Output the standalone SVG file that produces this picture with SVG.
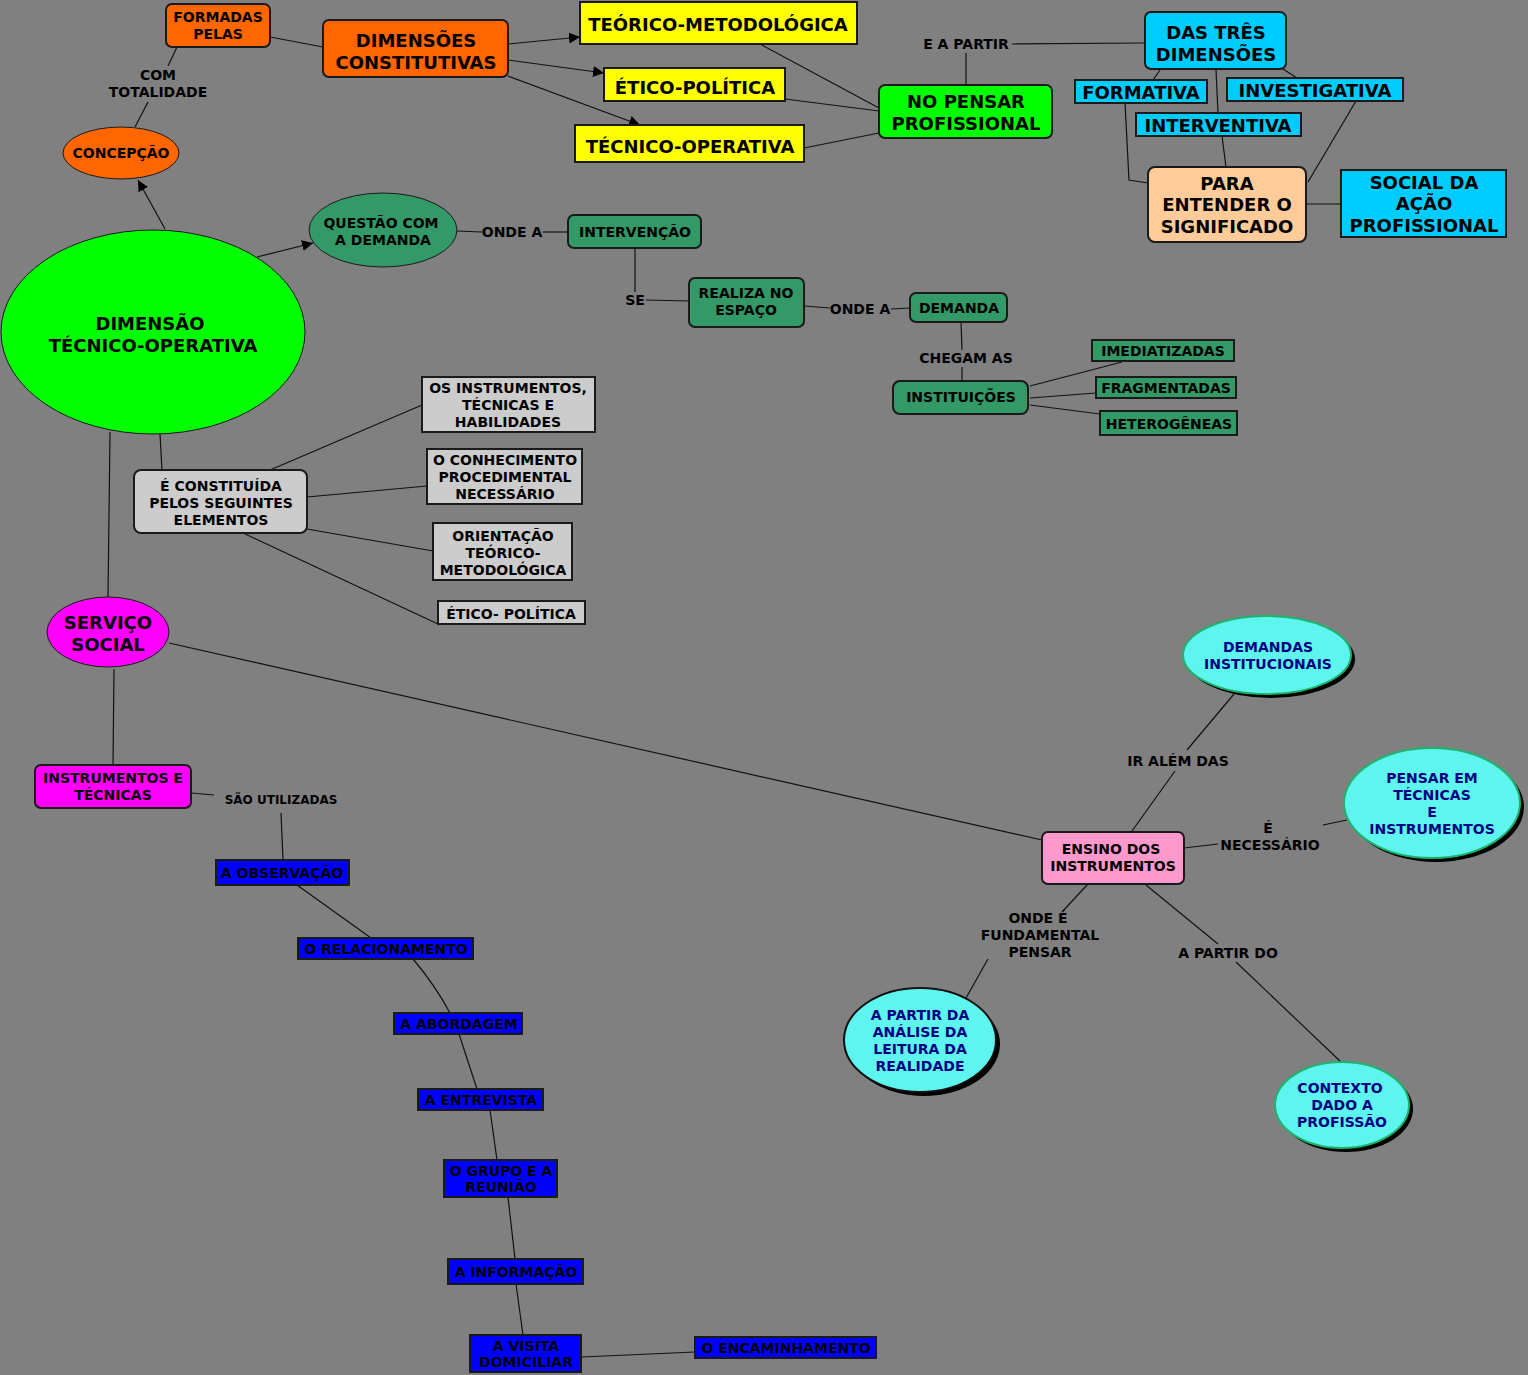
<svg xmlns="http://www.w3.org/2000/svg" width="1528" height="1375" viewBox="0 0 1528 1375">
<defs>
<marker id="arr" viewBox="0 0 10 10" refX="10" refY="5" markerWidth="11" markerHeight="11" markerUnits="userSpaceOnUse" orient="auto"><path d="M0,0 L10,5 L0,10 z" fill="#000"/></marker>
<style>
text{font-family:"DejaVu Sans","Verdana",sans-serif;font-weight:bold;text-anchor:middle;fill:#000}
.t14{font-size:14px}
.t18{font-size:18px}
.t12{font-size:12px}
.navy{fill:#000080}
.box{stroke:#1a1a1a;stroke-width:2}
.ell{stroke:#1a1a1a;stroke-width:1}
.orange{fill:#FF6600}
.yellow{fill:#FFFF00}
.green{fill:#00FF00}
.cyan{fill:#00CCFF}
.peach{fill:#FFCC99}
.sea{fill:#339966}
.gray{fill:#CCCCCC}
.mag{fill:#FF00FF}
.pink{fill:#FF99CC}
.blue{fill:#0000FF}
.aqua{fill:#5EF5EE;stroke:#1DB36B;stroke-width:2}
.shadow{fill:#000}
#connectors line,#connectors path,#connectors polyline{stroke:#111;stroke-width:1.2;fill:none}
</style>
</defs>
<rect width="1528" height="1375" fill="#808080"/>

<g id="connectors">
<line x1="270" y1="37" x2="323" y2="47"/>
<line x1="177" y1="47" x2="168" y2="66"/>
<line x1="148" y1="102" x2="135" y2="127"/>
<line x1="165" y1="229" x2="138" y2="180" marker-end="url(#arr)"/>
<line x1="257" y1="257" x2="313" y2="243" marker-end="url(#arr)"/>
<line x1="508" y1="44" x2="580" y2="37" marker-end="url(#arr)"/>
<line x1="508" y1="60" x2="604" y2="73" marker-end="url(#arr)"/>
<line x1="508" y1="76" x2="640" y2="125" marker-end="url(#arr)"/>
<line x1="760" y1="44" x2="879" y2="108"/>
<line x1="785" y1="99" x2="879" y2="111"/>
<line x1="804" y1="148" x2="879" y2="133"/>
<line x1="966" y1="85" x2="966" y2="53"/>
<line x1="1012" y1="44" x2="1145" y2="43"/>
<line x1="1160" y1="70" x2="1153" y2="80"/>
<line x1="1216" y1="70" x2="1218" y2="113"/>
<line x1="1283" y1="69" x2="1297" y2="78"/>
<polyline points="1125,103 1129,180 1148,183"/>
<line x1="1222" y1="136" x2="1226" y2="167"/>
<line x1="1356" y1="101" x2="1308" y2="182"/>
<line x1="1306" y1="204" x2="1341" y2="204"/>
<line x1="457" y1="231" x2="482" y2="232"/>
<line x1="543" y1="232" x2="568" y2="232"/>
<line x1="635" y1="248" x2="635" y2="292"/>
<line x1="646" y1="300" x2="689" y2="301"/>
<line x1="804" y1="306" x2="830" y2="308"/>
<line x1="891" y1="309" x2="910" y2="308"/>
<line x1="961" y1="322" x2="962" y2="350"/>
<line x1="962" y1="367" x2="962" y2="381"/>
<line x1="1030" y1="386" x2="1122" y2="362"/>
<line x1="1030" y1="398" x2="1096" y2="393"/>
<line x1="1030" y1="405" x2="1100" y2="414"/>
<line x1="160" y1="434" x2="162" y2="470"/>
<line x1="270" y1="470" x2="422" y2="405"/>
<line x1="307" y1="497" x2="427" y2="486"/>
<line x1="307" y1="529" x2="433" y2="551"/>
<line x1="243" y1="533" x2="438" y2="624"/>
<line x1="110" y1="432" x2="108" y2="597"/>
<line x1="114" y1="669" x2="113" y2="765"/>
<line x1="191" y1="793" x2="214" y2="795"/>
<line x1="281" y1="813" x2="283" y2="860"/>
<line x1="297" y1="885" x2="371" y2="938"/>
<path d="M413,959 Q435,985 450,1013"/>
<line x1="459" y1="1034" x2="477" y2="1089"/>
<line x1="490" y1="1110" x2="497" y2="1160"/>
<line x1="508" y1="1197" x2="515" y2="1259"/>
<line x1="516" y1="1284" x2="523" y2="1335"/>
<line x1="582" y1="1357" x2="695" y2="1352"/>
<line x1="169" y1="643" x2="1042" y2="840"/>
<line x1="1132" y1="831" x2="1175" y2="771"/>
<line x1="1187" y1="750" x2="1234" y2="694"/>
<line x1="1184" y1="848" x2="1218" y2="844"/>
<line x1="1323" y1="825" x2="1347" y2="820"/>
<line x1="1088" y1="884" x2="1062" y2="912"/>
<line x1="988" y1="959" x2="966" y2="998"/>
<line x1="1146" y1="885" x2="1218" y2="944"/>
<line x1="1236" y1="962" x2="1341" y2="1062"/>
</g>

<g id="n-formadas"><rect class="box orange" x="166" y="4" width="104" height="43" rx="6"/><text class="t14" x="218" y="22">FORMADAS</text><text class="t14" x="218" y="39">PELAS</text></g>
<g id="l-com"><text class="t14" x="158" y="80">COM</text><text class="t14" x="158" y="97">TOTALIDADE</text></g>
<g id="n-concepcao"><ellipse class="ell orange" cx="121" cy="153" rx="58" ry="26"/><text class="t14" x="121" y="158">CONCEPÇÃO</text></g>
<g id="n-dimensoes"><rect class="box orange" x="323" y="20" width="185" height="57" rx="6"/><text class="t18" x="416" y="46.5">DIMENSÕES</text><text class="t18" x="416" y="68.5">CONSTITUTIVAS</text></g>
<g id="n-teorico"><rect class="box yellow" x="580" y="2" width="277" height="42"/><text class="t18" x="718" y="30.5">TEÓRICO-METODOLÓGICA</text></g>
<g id="n-etico"><rect class="box yellow" x="604" y="68" width="181" height="33"/><text class="t18" x="695" y="93.5">ÉTICO-POLÍTICA</text></g>
<g id="n-tecnico"><rect class="box yellow" x="575" y="125" width="229" height="37"/><text class="t18" x="690" y="152.5">TÉCNICO-OPERATIVA</text></g>
<g id="n-nopensar"><rect class="box green" x="879" y="85" width="173" height="53" rx="6"/><text class="t18" x="966" y="107.5">NO PENSAR</text><text class="t18" x="966" y="129.5">PROFISSIONAL</text></g>
<g id="l-eapartir"><text class="t14" x="966" y="49">E A PARTIR</text></g>
<g id="n-dastres"><rect class="box cyan" x="1145" y="12" width="141" height="57" rx="6"/><text class="t18" x="1216" y="38.5">DAS TRÊS</text><text class="t18" x="1216" y="60.5">DIMENSÕES</text></g>
<g id="n-formativa"><rect class="box cyan" x="1075" y="80" width="132" height="23"/><text class="t18" x="1141" y="98.5">FORMATIVA</text></g>
<g id="n-investigativa"><rect class="box cyan" x="1227" y="78" width="176" height="23"/><text class="t18" x="1315" y="96.5">INVESTIGATIVA</text></g>
<g id="n-interventiva"><rect class="box cyan" x="1136" y="113" width="165" height="23"/><text class="t18" x="1218" y="131.5">INTERVENTIVA</text></g>
<g id="n-para"><rect class="box peach" x="1148" y="167" width="158" height="75" rx="7"/><text class="t18" x="1227" y="189.5">PARA</text><text class="t18" x="1227" y="210.5">ENTENDER O</text><text class="t18" x="1227" y="232.5">SIGNIFICADO</text></g>
<g id="n-social"><rect class="box cyan" x="1341" y="170" width="165" height="67"/><text class="t18" x="1424" y="188.5">SOCIAL DA</text><text class="t18" x="1424" y="209.5">AÇÃO</text><text class="t18" x="1424" y="231.5">PROFISSIONAL</text></g>

<g id="n-dimensao"><ellipse class="ell green" cx="153" cy="332" rx="152" ry="102"/><text class="t18" x="150" y="329.5">DIMENSÃO</text><text class="t18" x="153" y="351.5">TÉCNICO-OPERATIVA</text></g>
<g id="n-questao"><ellipse class="ell sea" cx="383" cy="230" rx="74" ry="37"/><text class="t14" x="381" y="228">QUESTÃO COM</text><text class="t14" x="383" y="245">A DEMANDA</text></g>
<g id="l-ondea1"><text class="t14" x="512" y="237">ONDE A</text></g>
<g id="n-intervencao"><rect class="box sea" x="568" y="215" width="133" height="33" rx="6"/><text class="t14" x="635" y="237">INTERVENÇÃO</text></g>
<g id="l-se"><text class="t14" x="635" y="305">SE</text></g>
<g id="n-realiza"><rect class="box sea" x="689" y="278" width="115" height="49" rx="6"/><text class="t14" x="746" y="298">REALIZA NO</text><text class="t14" x="746" y="315">ESPAÇO</text></g>
<g id="l-ondea2"><text class="t14" x="860" y="314">ONDE A</text></g>
<g id="n-demanda"><rect class="box sea" x="910" y="293" width="97" height="29" rx="6"/><text class="t14" x="959" y="313">DEMANDA</text></g>
<g id="l-chegam"><text class="t14" x="966" y="363">CHEGAM AS</text></g>
<g id="n-instituicoes"><rect class="box sea" x="893" y="381" width="135" height="33" rx="7"/><text class="t14" x="961" y="402">INSTITUIÇÕES</text></g>
<g id="n-imediatizadas"><rect class="box sea" x="1092" y="340" width="142" height="21"/><text class="t14" x="1163" y="356">IMEDIATIZADAS</text></g>
<g id="n-fragmentadas"><rect class="box sea" x="1096" y="377" width="140" height="21"/><text class="t14" x="1166" y="393">FRAGMENTADAS</text></g>
<g id="n-heterogeneas"><rect class="box sea" x="1100" y="411" width="137" height="24"/><text class="t14" x="1169" y="429">HETEROGÊNEAS</text></g>

<g id="n-constituida"><rect class="box gray" x="134" y="470" width="173" height="63" rx="7" stroke-width="1"/><text class="t14" x="221" y="491">É CONSTITUÍDA</text><text class="t14" x="221" y="508">PELOS SEGUINTES</text><text class="t14" x="221" y="525">ELEMENTOS</text></g>
<g id="n-osinstr"><rect class="box gray" x="422" y="377" width="173" height="55"/><text class="t14" x="508" y="393">OS INSTRUMENTOS,</text><text class="t14" x="508" y="410">TÉCNICAS E</text><text class="t14" x="508" y="427">HABILIDADES</text></g>
<g id="n-conhec"><rect class="box gray" x="427" y="449" width="155" height="55"/><text class="t14" x="505" y="465">O CONHECIMENTO</text><text class="t14" x="505" y="482">PROCEDIMENTAL</text><text class="t14" x="505" y="499">NECESSÁRIO</text></g>
<g id="n-orient"><rect class="box gray" x="433" y="523" width="139" height="57"/><text class="t14" x="503" y="541">ORIENTAÇÃO</text><text class="t14" x="503" y="558">TEÓRICO-</text><text class="t14" x="503" y="575">METODOLÓGICA</text></g>
<g id="n-eticopol"><rect class="box gray" x="438" y="601" width="147" height="23"/><text class="t14" x="511" y="619">ÉTICO- POLÍTICA</text></g>

<g id="n-servico"><ellipse class="ell mag" cx="108" cy="632" rx="61" ry="35"/><text class="t18" x="108" y="628.5">SERVIÇO</text><text class="t18" x="108" y="650.5">SOCIAL</text></g>
<g id="n-instrtec"><rect class="box mag" x="35" y="765" width="156" height="43" rx="6" stroke-width="1"/><text class="t14" x="113" y="783">INSTRUMENTOS E</text><text class="t14" x="113" y="800">TÉCNICAS</text></g>
<g id="l-sao"><text class="t12" x="281" y="804">SÃO UTILIZADAS</text></g>
<g id="n-observacao"><rect class="box blue" x="216" y="860" width="133" height="25"/><text class="t14" x="282" y="878">A OBSERVAÇÃO</text></g>
<g id="n-relac"><rect class="box blue" x="298" y="938" width="175" height="21"/><text class="t14" x="386" y="954">O RELACIONAMENTO</text></g>
<g id="n-abord"><rect class="box blue" x="394" y="1013" width="128" height="21"/><text class="t14" x="459" y="1029">A ABORDAGEM</text></g>
<g id="n-entrev"><rect class="box blue" x="418" y="1089" width="125" height="21"/><text class="t14" x="481" y="1105">A ENTREVISTA</text></g>
<g id="n-grupo"><rect class="box blue" x="444" y="1160" width="113" height="37"/><text class="t14" x="501" y="1176">O GRUPO E A</text><text class="t14" x="501" y="1192">REUNIÃO</text></g>
<g id="n-inform"><rect class="box blue" x="448" y="1259" width="135" height="25"/><text class="t14" x="516" y="1277">A INFORMAÇÃO</text></g>
<g id="n-visita"><rect class="box blue" x="470" y="1335" width="111" height="37"/><text class="t14" x="526" y="1351">A VISITA</text><text class="t14" x="526" y="1367">DOMICILIAR</text></g>
<g id="n-encam"><rect class="box blue" x="695" y="1337" width="181" height="21"/><text class="t14" x="786" y="1353">O ENCAMINHAMENTO</text></g>

<g id="n-ensino"><rect class="box pink" x="1042" y="832" width="142" height="52" rx="6" stroke-width="1"/><text class="t14" x="1111" y="854">ENSINO DOS</text><text class="t14" x="1113" y="871">INSTRUMENTOS</text></g>
<g id="n-demandas"><ellipse class="shadow" cx="1271" cy="659" rx="84" ry="39"/><ellipse class="aqua" cx="1267" cy="655" rx="84" ry="39"/><text class="t14 navy" x="1268" y="652">DEMANDAS</text><text class="t14 navy" x="1268" y="669">INSTITUCIONAIS</text></g>
<g id="l-iralem"><text class="t14" x="1178" y="766">IR ALÉM DAS</text></g>
<g id="l-necessario"><text class="t14" x="1268" y="833">É</text><text class="t14" x="1270" y="850">NECESSÁRIO</text></g>
<g id="n-pensar"><ellipse class="shadow" cx="1436" cy="807" rx="88" ry="55"/><ellipse class="aqua" cx="1432" cy="803" rx="88" ry="55"/><text class="t14 navy" x="1432" y="783">PENSAR EM</text><text class="t14 navy" x="1432" y="800">TÉCNICAS</text><text class="t14 navy" x="1432" y="817">E</text><text class="t14 navy" x="1432" y="834">INSTRUMENTOS</text></g>
<g id="l-onde"><text class="t14" x="1038" y="923">ONDE É</text><text class="t14" x="1040" y="940">FUNDAMENTAL</text><text class="t14" x="1040" y="957">PENSAR</text></g>
<g id="n-analise"><ellipse class="shadow" cx="924" cy="1044" rx="76" ry="52"/><ellipse class="aqua" cx="920" cy="1040" rx="76" ry="52" style="stroke:#111"/><text class="t14 navy" x="920" y="1020">A PARTIR DA</text><text class="t14 navy" x="920" y="1037">ANÁLISE DA</text><text class="t14 navy" x="920" y="1054">LEITURA DA</text><text class="t14 navy" x="920" y="1071">REALIDADE</text></g>
<g id="l-apartirdo"><text class="t14" x="1228" y="958">A PARTIR DO</text></g>
<g id="n-contexto"><ellipse class="shadow" cx="1346" cy="1109" rx="67" ry="43"/><ellipse class="aqua" cx="1342" cy="1105" rx="67" ry="43"/><text class="t14 navy" x="1340" y="1093">CONTEXTO</text><text class="t14 navy" x="1342" y="1110">DADO A</text><text class="t14 navy" x="1342" y="1127">PROFISSÃO</text></g>
</svg>
